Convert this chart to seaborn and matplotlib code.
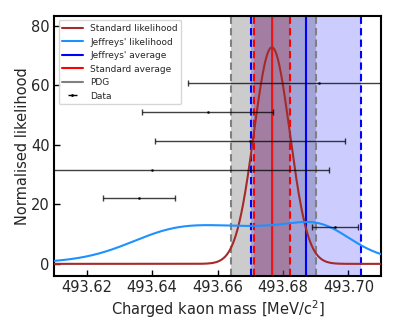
import math
import numpy as np
import pandas as pd
import seaborn as sns
import matplotlib
matplotlib.use('Agg')
import matplotlib.pyplot as plt
from matplotlib.lines import Line2D

# measurements (MeV/c^2), top to bottom as drawn
mass = [493.691, 493.657, 493.670, 493.640, 493.636, 493.696]
err = [0.040, 0.020, 0.029, 0.054, 0.011, 0.007]
ypos = [60.7, 51.0, 41.3, 31.6, 22.0, 12.3]

# averages
std_avg, std_err = 493.6767, 0.0055
jef_avg, jef_lo, jef_hi = 493.6871, 493.6703, 493.7039
pdg_avg, pdg_err = 493.677, 0.013

sns.set_style('white')
plt.rcParams['font.family'] = ['DejaVu Sans']

mass_a = np.array(mass)
err_a = np.array(err)

# likelihoods built from the measurements, normalised to unit area
wide = np.linspace(493.2, 494.2, 20001)
def standard_like(m):
    r = (mass_a[:, None] - m[None, :]) / err_a[:, None]
    return np.exp(-0.5 * (r ** 2).sum(axis=0))
verf = np.vectorize(math.erf)
def jeffreys_like(m):
    r = np.abs(mass_a[:, None] - m[None, :]) / err_a[:, None]
    r = np.where(r < 1e-9, 1e-9, r)
    return np.prod(verf(r / np.sqrt(2)) / r, axis=0)

x = np.linspace(493.61, 493.71, 1500)
s_norm = np.trapezoid(standard_like(wide), wide)
j_norm = np.trapezoid(jeffreys_like(wide), wide)
curves = pd.DataFrame({'m': x,
                       'std': standard_like(x) / s_norm,
                       'jef': jeffreys_like(x) / j_norm})

fig, ax = plt.subplots(figsize=(3.97, 3.31), dpi=100)
fig.subplots_adjust(left=0.136, right=0.96, bottom=0.166, top=0.952)

# bands
ax.axvspan(pdg_avg - pdg_err, pdg_avg + pdg_err, color='gray', alpha=0.4, lw=0, zorder=1)
ax.axvspan(jef_lo, jef_hi, color='blue', alpha=0.2, lw=0, zorder=1)
ax.axvspan(std_avg - std_err, std_avg + std_err, color='brown', alpha=0.3, lw=0, zorder=1)

dash = (0, (3.5, 2))
ax.axvline(pdg_avg, color='gray', lw=1.5, zorder=2)
for v in (pdg_avg - pdg_err, pdg_avg + pdg_err):
    ax.axvline(v, color='gray', lw=1.5, ls=dash, zorder=2)
ax.axvline(jef_avg, color='blue', lw=1.5, zorder=2)
for v in (jef_lo, jef_hi):
    ax.axvline(v, color='blue', lw=1.5, ls=dash, zorder=2)
ax.axvline(std_avg, color='red', lw=1.2, zorder=2)
for v in (std_avg - std_err, std_avg + std_err):
    ax.axvline(v, color='red', lw=1.5, ls=dash, zorder=2)

sns.lineplot(data=curves, x='m', y='std', color='brown', lw=1.5, ax=ax, zorder=3)
sns.lineplot(data=curves, x='m', y='jef', color='dodgerblue', lw=1.5, ax=ax, zorder=3)

ax.errorbar(mass, ypos, xerr=err, fmt='.', color='black', ms=2, lw=1,
            capsize=2, capthick=1, alpha=0.75, zorder=4)

ax.set_xlim(493.61, 493.71)
ax.set_ylim(-4.1, 83.4)
ax.set_xticks([493.62, 493.64, 493.66, 493.68, 493.70])
ax.set_xticklabels(['493.62', '493.64', '493.66', '493.68', '493.70'])
ax.set_yticks([0, 20, 40, 60, 80])
ax.tick_params(bottom=True, left=True, direction='in', length=4, width=1,
               color='black', labelsize=10.5, pad=3)
for sp in ax.spines.values():
    sp.set_linewidth(1.5)
    sp.set_color('black')
ax.set_xlabel('Charged kaon mass [MeV/c$^2$]', fontsize=10.5, labelpad=2)
ax.set_ylabel('Normalised likelihood', fontsize=10.5, labelpad=1)

handles = [Line2D([], [], color='brown', lw=1.5),
           Line2D([], [], color='dodgerblue', lw=1.5),
           Line2D([], [], color='blue', lw=1.5),
           Line2D([], [], color='red', lw=1.5),
           Line2D([], [], color='gray', lw=1.5)]
eb = ax.errorbar([], [], xerr=[], fmt='.', color='black', ms=2, lw=1, capsize=2)
handles.append(eb)
labels = ['Standard likelihood', "Jeffreys' likelihood", "Jeffreys' average",
          'Standard average', 'PDG', 'Data']
ax.legend(handles, labels, loc='upper left', fontsize=6.5, handlelength=2.3)

fig.savefig('out.png', dpi=100)
